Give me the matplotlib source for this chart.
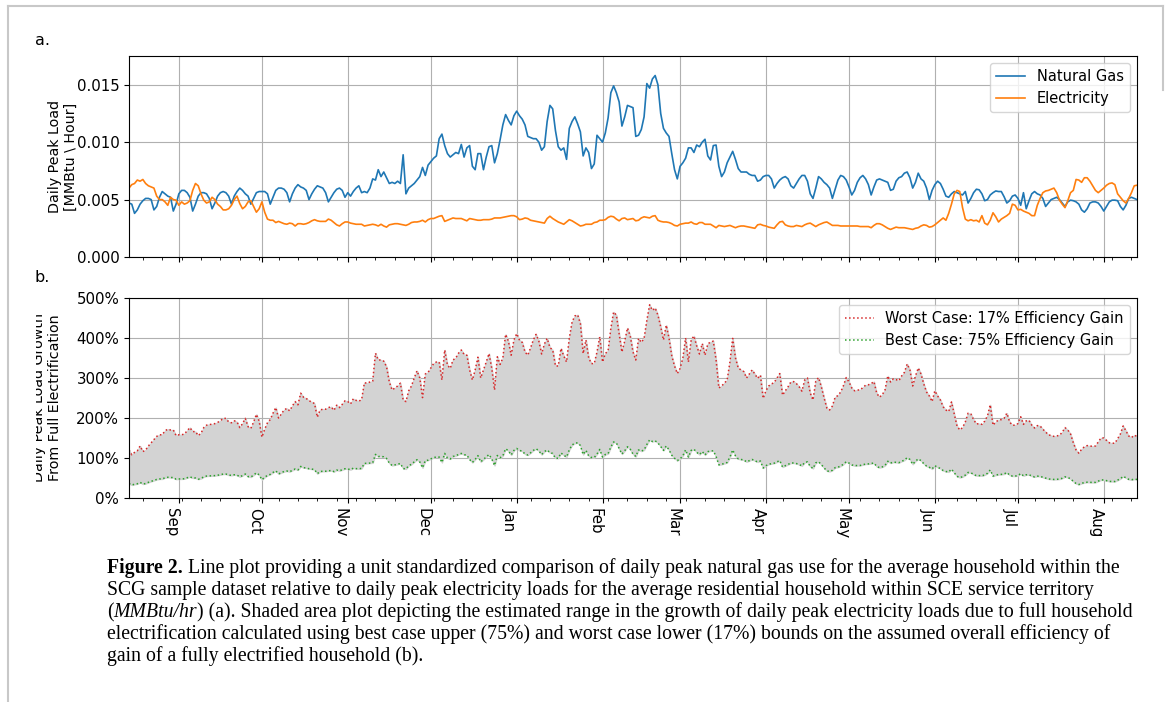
import matplotlib
matplotlib.use("Agg")
import matplotlib.pyplot as plt
import matplotlib.dates as mdates
from matplotlib.ticker import FormatStrFormatter, PercentFormatter, MultipleLocator
from matplotlib.transforms import Bbox, TransformedBbox
from matplotlib.lines import Line2D
import numpy as np
import pandas as pd

plt.rcParams["font.family"] = ["DejaVu Sans"]

# daily values, one per day starting 14 Aug 2018 (rows of 7 days)
start_date = "2018-08-14"

# natural gas daily peak, thousandths of MMBtu/hr
gas_thousandths = [
    4.7, 4.6, 3.8, 4.1, 4.6, 4.9, 5.1,
    5.1, 5.0, 4.1, 4.4, 5.2, 5.7, 5.5,
    5.3, 5.2, 4.0, 4.6, 5.5, 5.8, 5.8,
    5.6, 5.2, 4.0, 4.6, 5.3, 5.6, 5.6,
    5.5, 5.1, 4.2, 4.7, 5.3, 5.6, 5.7,
    5.6, 5.3, 4.6, 5.3, 5.7, 6.0, 5.8,
    5.5, 5.3, 4.6, 5.1, 5.6, 5.7, 5.7,
    5.7, 5.5, 4.6, 5.2, 5.8, 6.0, 6.0,
    5.9, 5.6, 4.8, 5.5, 6.0, 6.3, 6.1,
    6.0, 5.8, 5.0, 5.5, 5.9, 6.2, 6.1,
    6.0, 5.6, 4.8, 5.2, 5.6, 5.9, 6.0,
    5.8, 5.2, 5.6, 5.3, 5.7, 6.0, 6.2,
    5.6, 5.7, 5.6, 6.0, 6.8, 6.7, 7.6,
    7.0, 7.4, 6.9, 6.4, 6.5, 6.4, 6.6,
    6.4, 8.9, 5.5, 6.0, 6.2, 6.4, 6.7,
    7.0, 7.8, 7.1, 8.0, 8.3, 8.6, 8.8,
    10.3, 10.7, 9.7, 9.0, 8.7, 8.9, 9.1,
    9.0, 9.8, 8.7, 9.5, 9.7, 7.9, 7.6,
    9.0, 9.0, 7.6, 8.7, 9.6, 9.7, 8.2,
    9.0, 10.2, 11.5, 12.4, 11.9, 11.5, 12.3,
    12.7, 12.3, 12.0, 11.5, 10.5, 10.4, 10.3,
    10.3, 10.0, 9.3, 9.6, 11.8, 13.2, 12.9,
    11.0, 9.6, 9.3, 9.5, 8.5, 11.2, 11.8,
    12.2, 11.6, 10.9, 8.8, 9.5, 9.1, 7.7,
    8.1, 10.6, 10.3, 10.0, 10.8, 12.1, 14.3,
    14.9, 14.3, 13.5, 11.4, 12.2, 13.2, 13.1,
    13.0, 10.5, 10.6, 11.1, 12.2, 15.1, 14.7,
    15.5, 15.8, 15.0, 12.5, 11.2, 10.8, 10.5,
    9.0, 7.6, 6.8, 7.9, 8.2, 8.6, 9.5,
    9.5, 9.1, 9.75, 9.6, 10.0, 10.25, 8.8,
    8.45, 9.7, 9.75, 7.9, 7.0, 7.4, 8.2,
    8.7, 9.2, 8.5, 7.7, 7.4, 7.4, 7.4,
    7.2, 7.1, 7.1, 6.6, 6.7, 7.0, 7.1,
    7.1, 6.8, 6.0, 6.4, 6.7, 6.9, 7.0,
    6.8, 6.2, 6.0, 6.4, 6.8, 7.1, 7.1,
    6.6, 5.5, 5.1, 6.0, 7.0, 6.8, 6.5,
    6.3, 6.0, 5.1, 5.9, 6.7, 7.1, 7.0,
    6.7, 6.1, 5.4, 5.8, 6.5, 6.9, 7.1,
    6.8, 6.3, 5.4, 6.1, 6.7, 6.8, 6.7,
    6.6, 6.5, 5.8, 5.9, 6.6, 6.9, 7.0,
    7.3, 7.4, 6.9, 6.0, 6.5, 7.3, 6.8,
    6.6, 6.0, 5.0, 5.8, 6.3, 6.6, 6.4,
    5.9, 5.3, 5.2, 5.5, 5.7, 5.6, 5.5,
    5.4, 5.7, 4.7, 5.1, 5.6, 5.9, 5.85,
    5.5, 4.9, 5.0, 5.4, 5.6, 5.75, 5.7,
    5.7, 5.25, 4.7, 4.9, 5.3, 5.4, 5.1,
    4.5, 5.6, 4.2, 4.9, 5.5, 5.7, 5.5,
    5.4, 5.1, 4.4, 4.7, 5.0, 5.1, 5.2,
    5.0, 4.7, 4.4, 4.8, 4.95, 4.9, 4.8,
    4.6, 4.1, 3.9, 4.2, 4.7, 4.8, 4.8,
    4.7, 4.4, 4.0, 4.4, 4.8, 4.95, 4.95,
    4.9, 4.4, 4.1, 4.5, 5.1, 5.2, 5.1,
    5.0,
]

# electricity daily peak, thousandths of MMBtu/hr
elec_thousandths = [
    6.0, 6.3, 6.4, 6.7, 6.6, 6.75, 6.4,
    6.2, 6.1, 6.0, 5.3, 5.0, 5.0, 4.8,
    4.5, 5.2, 5.0, 4.95, 4.5, 4.8, 4.6,
    4.7, 4.9, 5.8, 6.4, 6.2, 5.5, 4.95,
    4.7, 4.8, 5.2, 5.0, 4.6, 4.4, 4.1,
    4.1, 4.2, 4.5, 5.0, 5.3, 4.65, 4.2,
    4.4, 4.8, 4.9, 4.4, 3.9, 4.2, 4.8,
    3.9, 3.3, 3.2, 3.2, 3.0, 3.1, 3.0,
    2.9, 2.85, 2.95, 2.9, 2.7, 2.9, 2.9,
    2.85, 2.9, 3.0, 3.15, 3.25, 3.15, 3.1,
    3.1, 3.1, 3.3, 3.2, 3.0, 2.8, 2.7,
    2.9, 3.05, 3.05, 2.95, 2.9, 2.85, 2.85,
    2.85, 2.7, 2.75, 2.8, 2.85, 2.8, 2.7,
    2.85, 2.7, 2.6, 2.8, 2.85, 2.9, 2.9,
    2.85, 2.8, 2.75, 2.85, 3.0, 3.05, 3.05,
    3.1, 3.2, 3.05, 3.25, 3.35, 3.35, 3.45,
    3.55, 3.6, 3.1, 3.2, 3.3, 3.4, 3.35,
    3.35, 3.35, 3.25, 3.15, 3.35, 3.3, 3.25,
    3.2, 3.2, 3.25, 3.25, 3.25, 3.3, 3.4,
    3.4, 3.4, 3.45, 3.5, 3.55, 3.6, 3.6,
    3.5, 3.25, 3.3, 3.4, 3.35, 3.2, 3.15,
    3.1, 3.05, 3.0, 2.95, 3.35, 3.55, 3.35,
    3.2, 3.05, 2.95, 2.85, 3.05, 3.25, 3.15,
    3.0, 2.85, 2.7, 2.75, 2.85, 2.85, 2.85,
    3.0, 3.05, 3.2, 3.2, 3.25, 3.45, 3.55,
    3.5, 3.3, 3.15, 3.35, 3.4, 3.25, 3.3,
    3.35, 3.15, 3.2, 3.4, 3.5, 3.45, 3.4,
    3.55, 3.6, 3.2, 3.1, 3.05, 3.05, 3.0,
    2.9, 2.75, 2.7, 2.85, 2.9, 2.95, 2.95,
    3.05, 2.9, 2.85, 3.0, 3.0, 2.85, 2.85,
    2.85, 2.7, 2.55, 2.75, 2.7, 2.65, 2.7,
    2.75, 2.65, 2.55, 2.65, 2.7, 2.7, 2.65,
    2.6, 2.55, 2.5, 2.8, 2.85, 2.75, 2.7,
    2.6, 2.55, 2.5, 2.8, 3.05, 3.1, 2.8,
    2.7, 2.65, 2.65, 2.75, 2.7, 2.65, 2.8,
    2.9, 2.95, 2.8, 2.65, 2.8, 2.9, 3.0,
    3.05, 2.9, 2.75, 2.75, 2.75, 2.7, 2.7,
    2.7, 2.7, 2.7, 2.7, 2.7, 2.65, 2.65,
    2.65, 2.65, 2.55, 2.75, 2.9, 2.9, 2.8,
    2.65, 2.5, 2.4, 2.5, 2.6, 2.55, 2.55,
    2.55, 2.5, 2.45, 2.4, 2.5, 2.55, 2.7,
    2.8, 2.75, 2.6, 2.65, 2.8, 3.0, 3.2,
    3.4, 3.2, 3.8, 4.6, 5.5, 5.8, 5.7,
    4.3, 3.3, 3.15, 3.25, 3.15, 3.2, 3.05,
    3.6, 2.95, 2.8, 3.2, 3.85, 3.5, 3.05,
    3.3, 3.45, 3.6, 3.8, 4.6, 4.5, 4.1,
    4.15, 4.0, 3.9, 3.8, 3.6, 3.6, 4.5,
    5.1, 5.6, 5.75, 5.8, 5.9, 6.0, 5.6,
    4.95, 4.6, 4.3, 4.9, 5.6, 5.8, 6.75,
    6.7, 6.5, 6.9, 6.9, 6.6, 6.2, 5.8,
    5.6, 5.8, 6.0, 6.25, 6.4, 6.45, 6.3,
    5.5, 5.2, 4.9, 4.7, 5.1, 5.6, 6.2,
    6.25,
]

# worst case (17% efficiency gain) daily peak load growth, percent
worst_pct = [
    120, 108, 114, 118, 130, 116, 120,
    130, 138, 146, 154, 158, 158, 168,
    172, 170, 170, 156, 158, 158, 160,
    168, 176, 166, 166, 156, 162, 176,
    182, 184, 184, 186, 189, 193, 199,
    199, 190, 188, 193, 190, 176, 186,
    199, 178, 174, 190, 209, 192, 152,
    172, 188, 196, 212, 226, 200, 210,
    220, 224, 218, 230, 241, 233, 262,
    252, 249, 243, 240, 236, 202, 220,
    222, 222, 226, 228, 219, 232, 226,
    234, 243, 241, 235, 248, 244, 242,
    246, 288, 287, 290, 292, 362, 345,
    345, 342, 328, 290, 270, 275, 280,
    287, 245, 241, 268, 280, 300, 318,
    300, 251, 310, 314, 325, 336, 340,
    340, 295, 370, 332, 324, 345, 350,
    362, 370, 359, 357, 320, 295, 320,
    352, 300, 320, 340, 361, 324, 270,
    353, 334, 350, 409, 392, 357, 395,
    411, 395, 389, 365, 357, 375, 395,
    409, 392, 360, 385, 399, 376, 370,
    330, 330, 374, 355, 340, 400, 440,
    455, 458, 436, 361, 395, 350, 336,
    336, 365, 403, 340, 361, 368, 424,
    465, 457, 410, 365, 392, 425, 405,
    365, 345, 399, 389, 399, 444, 483,
    469, 475, 457, 428, 395, 432, 400,
    355, 330, 311, 324, 350, 400, 340,
    395, 405, 380, 360, 386, 357, 385,
    390, 392, 345, 275, 280, 287, 295,
    340, 399, 350, 325, 320, 316, 300,
    310, 320, 310, 299, 307, 249, 268,
    280, 285, 289, 300, 311, 257, 268,
    278, 290, 291, 286, 278, 267, 295,
    300, 262, 245, 292, 301, 278, 250,
    225, 220, 230, 252, 256, 265, 281,
    301, 290, 275, 268, 270, 270, 276,
    282, 283, 286, 291, 262, 252, 258,
    270, 305, 290, 298, 296, 293, 305,
    314, 335, 320, 280, 305, 325, 310,
    285, 265, 255, 241, 268, 255, 245,
    228, 220, 216, 240, 210, 180, 170,
    176, 190, 212, 210, 196, 185, 186,
    184, 192, 205, 233, 182, 190, 195,
    196, 199, 212, 190, 182, 182, 186,
    203, 184, 193, 194, 182, 175, 181,
    180, 172, 165, 158, 156, 154, 155,
    157, 164, 176, 170, 160, 138, 120,
    112, 122, 128, 131, 130, 129, 130,
    140, 150, 150, 144, 138, 137, 137,
    148, 160, 180, 168, 155, 151, 157,
    154,
]

worst_gain = 0.17
best_gain = 0.75

gas = np.array(gas_thousandths) / 1000.0
elec = np.array(elec_thousandths) / 1000.0
worst = np.array(worst_pct, dtype=float)
# best case is the same base growth scaled by the remaining (1 - gain) share
best = worst * (1 - best_gain) / (1 - worst_gain)

def day_index(values):
    return pd.date_range(start_date, periods=len(values), freq="D")

W, H = 1167, 702
fig = plt.figure(figsize=(W / 100, H / 100), dpi=100)

ax1 = fig.add_axes([129 / W, 1 - 257 / H, 1008 / W, 201 / H])
ax2 = fig.add_axes([129 / W, 1 - 498 / H, 1008 / W, 200 / H])

tick_fs = 10.8
label_fs = 10.3

# panel a
ax1.plot(day_index(gas), gas, color="#1f77b4", lw=1.2, label="Natural Gas")
ax1.plot(day_index(elec), elec, color="#ff7f0e", lw=1.2, label="Electricity")
ax1.set_ylim(0, 0.0175)
ax1.yaxis.set_major_locator(MultipleLocator(0.005))
ax1.yaxis.set_major_formatter(FormatStrFormatter("%.3f"))
ax1.set_ylabel("Daily Peak Load\n[MMBtu \\ Hour]", fontsize=label_fs)
ax1.yaxis.set_label_coords(-51 / 1008, 0.5)
ax1.legend(loc="upper right", fontsize=10.5)

# panel b
days_b = day_index(worst)
ax2.fill_between(days_b, best, worst, color="lightgray")
ax2.plot(days_b, worst, ":", color="#d62728", lw=1.1,
         label="Worst Case: 17% Efficiency Gain")
ax2.plot(days_b, best, ":", color="#2ca02c", lw=1.1,
         label="Best Case: 75% Efficiency Gain")
ax2.set_ylim(0, 500)
ax2.yaxis.set_major_locator(MultipleLocator(100))
ax2.yaxis.set_major_formatter(PercentFormatter(decimals=0))
ax2.set_ylabel("Daily Peak Load Growth\nFrom Full Electrification", fontsize=label_fs)
ax2.yaxis.set_label_coords(-67 / 1008, 0.5)
ax2.legend(loc="upper right", fontsize=10.5)

for ax in (ax1, ax2):
    ax.set_xlim(days_b[0], days_b[-1])
    ax.xaxis.set_major_locator(mdates.MonthLocator())
    ax.xaxis.set_major_formatter(mdates.DateFormatter("%b"))
    ax.xaxis.set_minor_locator(mdates.WeekdayLocator(byweekday=mdates.SU))
    ax.grid(True, which="major", color="#b0b0b0", lw=0.8)
    ax.set_axisbelow(True)
    ax.tick_params(labelsize=tick_fs)

ax1.tick_params(axis="x", labelbottom=False)
plt.setp(ax2.get_xticklabels(), rotation=270, ha="right")

# the left part of the b label is cut off in the source figure
lab = ax2.yaxis.label
lab.set_clip_box(TransformedBbox(Bbox([[36 / W, 0], [1, 1]]), fig.transFigure))
lab.set_clip_on(True)

fig.text(35 / W, 1 - 45 / H, "a.", fontsize=11.5, va="baseline")
fig.text(35 / W, 1 - 282 / H, "b.", fontsize=11.5, va="baseline")

# page frame
frame_col = "#c8c8c8"
fig.add_artist(Line2D([7.5 / W, 7.5 / W], [0, 1 - 6 / H], color=frame_col, lw=1.5))
fig.add_artist(Line2D([7.5 / W, 1163 / W], [1 - 6 / H, 1 - 6 / H], color=frame_col, lw=1.5))
fig.add_artist(Line2D([1163 / W, 1163 / W], [1 - 6 / H, 1 - 90 / H], color=frame_col, lw=1.5))

# caption
serif = "Liberation Serif"
caption = [
    [("Figure 2.", "bold"), (" Line plot providing a unit standardized comparison of daily peak "
                            "natural gas use for the average household within the", "normal")],
    [("SCG sample dataset relative to daily peak electricity loads for the average residential "
      "household within SCE service territory", "normal")],
    [("(", "normal"), ("MMBtu/hr", "italic"),
     (") (a). Shaded area plot depicting the estimated range in the growth of daily peak "
      "electricity loads due to full household", "normal")],
    [("electrification calculated using best case upper (75%) and worst case lower (17%) bounds "
      "on the assumed overall efficiency of", "normal")],
    [("gain of a fully electrified household (b).", "normal")],
]
baselines = [573, 595, 617, 639, 661]
cap_left = 107
renderer = fig.canvas.get_renderer()

def make_text(x, y, s, style, size):
    return fig.text(x / W, 1 - y / H, s, fontsize=size, family=serif, va="baseline",
                    fontweight="bold" if style == "bold" else "normal",
                    fontstyle="italic" if style == "italic" else "normal")

# size the caption so the first line spans the same width as in the source
probe = 0
for s, style in caption[0]:
    t = make_text(0, 0, s, style, 10)
    probe += t.get_window_extent(renderer).width
    t.remove()
cap_size = 10 * (1120 - cap_left) / probe

for parts, y in zip(caption, baselines):
    x = cap_left
    for s, style in parts:
        t = make_text(x, y, s, style, cap_size)
        x = t.get_window_extent(renderer).x1

fig.savefig("out.png", dpi=100)
